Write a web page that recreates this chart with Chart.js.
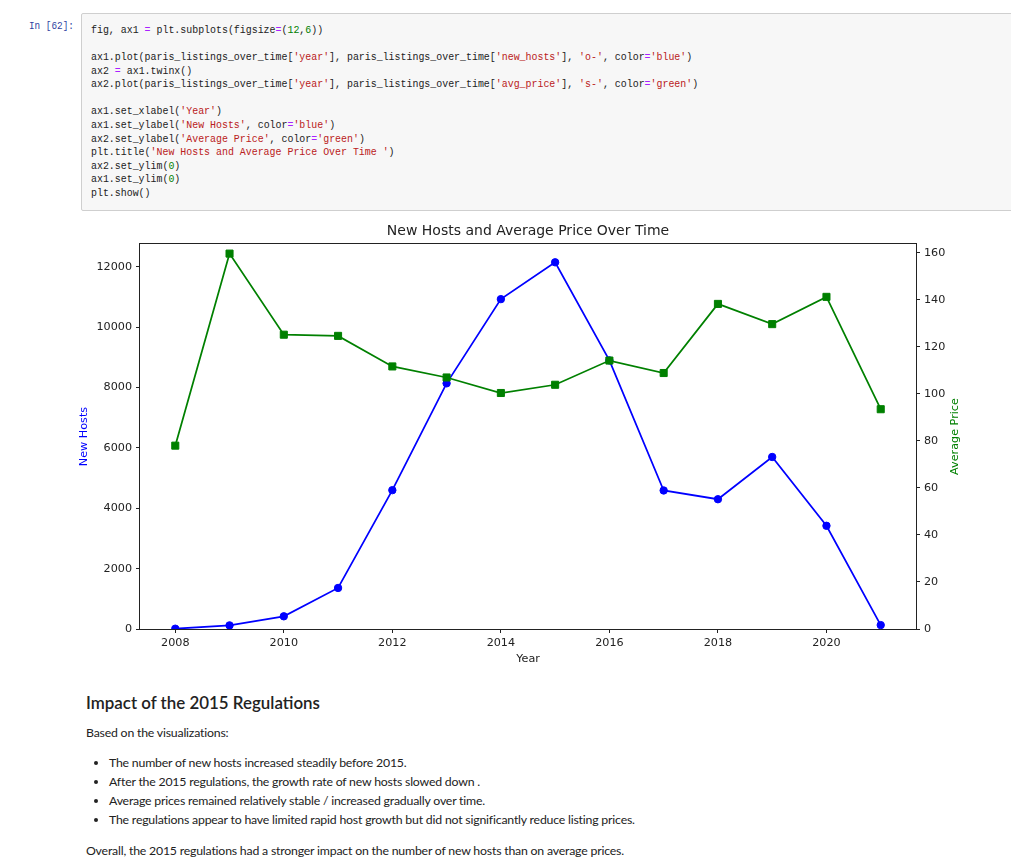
<!DOCTYPE html>
<html>
<head>
<meta charset="utf-8">
<title>New Hosts and Average Price Over Time</title>
<script src="https://cdn.jsdelivr.net/npm/chart.js@4.4.1/dist/chart.umd.min.js"></script>
<style>
  html, body { margin: 0; padding: 0; background: #fff; }
  body { width: 1011px; height: 868px; position: relative; overflow: hidden; }
  .prompt { position: absolute; left: 29px; top: 19px; font: 10.4px/14px "Liberation Mono", monospace; color: #303F9F;
            transform: scaleX(0.9); transform-origin: left top; }
  .code { position: absolute; left: 81px; top: 13px; width: 960px; height: 196px;
          background: #f7f7f7; border: 1px solid #cfcfcf; border-radius: 2px; }
  .code pre { position: absolute; left: 9px; top: 10px; margin: 0;
              font: 11.3px/13.58px "Liberation Mono", monospace; color: #222;
              transform: scaleX(0.878); transform-origin: left top; }
  .s { color: #BA2121; }
  .n { color: #008000; }
  .o { color: #AA22FF; }
  #chartBox { position: absolute; left: 0; top: 215px; width: 1011px; height: 460px; }
  .md { position: absolute; left: 86px; font-family: Lato, "Noto Sans", sans-serif; color: #222; }
  .md h2 { margin: 0; font-size: 16.9px; font-weight: 600; line-height: 20px; }
  .md p { margin: 0; font-size: 12.3px; line-height: 16px; letter-spacing: -0.2px; }
  .md ul { margin: 0; padding-left: 23px; font-size: 12.3px; line-height: 19px; letter-spacing: -0.2px; }
</style>
</head>
<body>

<div class="prompt">In&nbsp;[62]:</div>
<div class="code"><pre>fig, ax1 <span class="o">=</span> plt.subplots(figsize<span class="o">=</span>(<span class="n">12</span>,<span class="n">6</span>))

ax1.plot(paris_listings_over_time[<span class="s">'year'</span>], paris_listings_over_time[<span class="s">'new_hosts'</span>], <span class="s">'o-'</span>, color<span class="o">=</span><span class="s">'blue'</span>)
ax2 <span class="o">=</span> ax1.twinx()
ax2.plot(paris_listings_over_time[<span class="s">'year'</span>], paris_listings_over_time[<span class="s">'avg_price'</span>], <span class="s">'s-'</span>, color<span class="o">=</span><span class="s">'green'</span>)

ax1.set_xlabel(<span class="s">'Year'</span>)
ax1.set_ylabel(<span class="s">'New Hosts'</span>, color<span class="o">=</span><span class="s">'blue'</span>)
ax2.set_ylabel(<span class="s">'Average Price'</span>, color<span class="o">=</span><span class="s">'green'</span>)
plt.title(<span class="s">'New Hosts and Average Price Over Time '</span>)
ax2.set_ylim(<span class="n">0</span>)
ax1.set_ylim(<span class="n">0</span>)
plt.show()</pre></div>

<div id="chartBox"><canvas id="hostsChart"></canvas></div>

<div class="md" style="top:693px"><h2>Impact of the 2015 Regulations</h2></div>
<div class="md" style="top:725px"><p>Based on the visualizations:</p></div>
<div class="md" style="top:753px">
  <ul>
    <li>The number of new hosts increased steadily before 2015.</li>
    <li>After the 2015 regulations, the growth rate of new hosts slowed down .</li>
    <li>Average prices remained relatively stable / increased gradually over time.</li>
    <li>The regulations appear to have limited rapid host growth but did not significantly reduce listing prices.</li>
  </ul>
</div>
<div class="md" style="top:843px"><p>Overall, the 2015 regulations had a stronger impact on the number of new hosts than on average prices.</p></div>

<script>
// values
const years = [2008, 2009, 2010, 2011, 2012, 2013, 2014, 2015, 2016, 2017, 2018, 2019, 2020, 2021];
const newHosts = [10, 120, 420, 1360, 4600, 8140, 10930, 12150, 8900, 4590, 4300, 5700, 3420, 130];
const avgPrice = [78.0, 159.7, 125.2, 124.7, 111.7, 107.0, 100.4, 103.9, 114.2, 108.9, 138.3, 129.7, 141.3, 93.5];

const yearTicks = [2008, 2010, 2012, 2014, 2016, 2018, 2020];
const hostTicks = [0, 2000, 4000, 6000, 8000, 10000, 12000];
const priceTicks = [0, 20, 40, 60, 80, 100, 120, 140, 160];

const blue = '#0000ff';
const green = '#008000';
const ink = '#222';
const tickFont = { family: 'DejaVu Sans', size: 11.2 };

// matplotlib style 5% margins around the data
function padded(arr) {
    const lo = Math.min(...arr), hi = Math.max(...arr), m = (hi - lo) * 0.05;
    return [lo - m, hi + m];
}
const [xMin, xMax] = padded(years);
const hostMax = padded(newHosts)[1];
const priceMax = padded(avgPrice)[1];

function points(values) {
    return years.map((yr, i) => ({ x: yr, y: values[i] }));
}

// box around the axes, like the matplotlib spines
const framePlugin = {
    id: 'frame',
    afterDraw(chart) {
        const { ctx, chartArea: a } = chart;
        ctx.save();
        ctx.strokeStyle = ink;
        ctx.lineWidth = 1;
        ctx.strokeRect(Math.round(a.left) - 0.5, Math.round(a.top) - 0.5,
                       Math.round(a.right - a.left) + 1, Math.round(a.bottom - a.top) + 1);
        ctx.restore();
    }
};

// right label reads bottom to top in matplotlib, Chart.js would turn it the other way
const rightTitlePlugin = {
    id: 'rightTitle',
    afterDraw(chart) {
        const { ctx, chartArea: a } = chart;
        const scale = chart.scales.yPrice;
        ctx.save();
        ctx.translate(scale.right - 56, (a.top + a.bottom) / 2);
        ctx.rotate(-Math.PI / 2);
        ctx.fillStyle = green;
        ctx.font = '11.2px "DejaVu Sans"';
        ctx.textAlign = 'center';
        ctx.textBaseline = 'middle';
        ctx.fillText('Average Price', 0, 0);
        ctx.restore();
    }
};

const ctx = document.getElementById('hostsChart').getContext('2d');

new Chart(ctx, {
    type: 'line',
    data: {
        datasets: [
            {
                label: 'New Hosts',
                data: points(newHosts),
                yAxisID: 'yHosts',
                borderColor: blue,
                backgroundColor: blue,
                borderWidth: 1.75,
                pointStyle: 'circle',
                pointRadius: 3.7,
                pointBorderWidth: 1,
                tension: 0,
                order: 2,
            },
            {
                label: 'Average Price',
                data: points(avgPrice),
                yAxisID: 'yPrice',
                borderColor: green,
                backgroundColor: green,
                borderWidth: 1.75,
                pointStyle: 'rect',
                pointRadius: 5,
                pointBorderWidth: 1,
                tension: 0,
                order: 1,
            },
        ],
    },
    options: {
        responsive: true,
        maintainAspectRatio: false,
        animation: false,
        layout: { padding: 0 },
        plugins: {
            legend: { display: false },
            tooltip: { enabled: false },
            title: {
                display: true,
                fullSize: false,
                text: 'New Hosts and Average Price Over Time',
                color: ink,
                font: { family: 'DejaVu Sans', size: 14, weight: 'normal' },
                padding: { top: 8, bottom: 4.2 },
            },
        },
        scales: {
            x: {
                type: 'linear',
                min: xMin,
                max: xMax,
                afterFit: s => { s.height = 46; },
                afterBuildTicks: s => { s.ticks = yearTicks.map(v => ({ value: v })); },
                ticks: { font: tickFont, color: ink, padding: 3, maxRotation: 0, autoSkip: false, callback: v => String(v) },
                grid: { drawOnChartArea: false, tickLength: 4, color: ink },
                border: { display: false },
                title: { display: true, text: 'Year', color: ink, font: tickFont, padding: { top: 0, bottom: 9.5 } },
            },
            yHosts: {
                type: 'linear',
                position: 'left',
                min: 0,
                max: hostMax,
                afterFit: s => { s.width = 140; },
                afterBuildTicks: s => { s.ticks = hostTicks.map(v => ({ value: v })); },
                ticks: { font: tickFont, color: ink, padding: 4, callback: v => String(v) },
                grid: { drawOnChartArea: false, tickLength: 4, color: ink },
                border: { display: false },
                title: { display: true, text: 'New Hosts', color: blue, font: tickFont, padding: { top: 77, bottom: 0 } },
            },
            yPrice: {
                type: 'linear',
                position: 'right',
                min: 0,
                max: priceMax,
                afterFit: s => { s.width = 95; },
                afterBuildTicks: s => { s.ticks = priceTicks.map(v => ({ value: v })); },
                ticks: { font: tickFont, color: ink, padding: 4, callback: v => String(v) },
                grid: { drawOnChartArea: false, tickLength: 4, color: ink },
                border: { display: false },
            },
        },
    },
    plugins: [framePlugin, rightTitlePlugin],
});
</script>
</body>
</html>
